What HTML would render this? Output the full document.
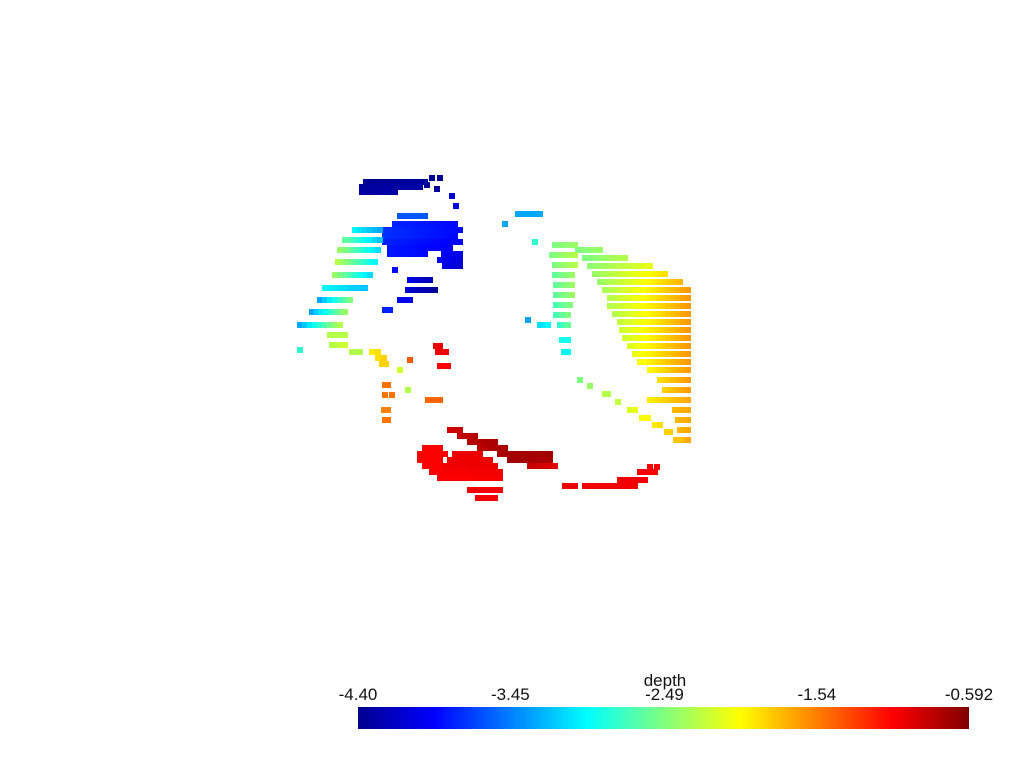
<!DOCTYPE html>
<html><head><meta charset="utf-8"><style>
body{margin:0;background:#fff;width:1024px;height:768px;overflow:hidden;font-family:"Liberation Sans",sans-serif}
svg{position:absolute;left:0;top:0}
</style></head><body>
<svg id="plot" width="1024" height="768">
<defs><linearGradient id="jet" x1="0" x2="1" y1="0" y2="0">
<stop offset="0" stop-color="#00008f"/><stop offset="0.125" stop-color="#0000ff"/><stop offset="0.375" stop-color="#00ffff"/><stop offset="0.625" stop-color="#ffff00"/><stop offset="0.875" stop-color="#ff0000"/><stop offset="1" stop-color="#800000"/></linearGradient></defs>
<g id="points"></g>
<g>
<rect x="358" y="707" width="611" height="22" fill="url(#jet)"/>
<text x="665" y="686" font-size="17" text-anchor="middle" fill="#111">depth</text>
<g id="ticks" font-size="17" fill="#111" text-anchor="middle"></g>
</g>
</svg>
<script>
// runs: [y, x0, x1, depthStart, depthEnd]
const runs = [
[182,366,425,-4.32,-4.28],[187,362,420,-4.3,-4.25],[192,362,395,-4.28,-4.25],
[178,432,432,-4.3,-4.3],[178,440,440,-4.3,-4.3],[185,427,427,-4.3,-4.3],[189,437,437,-4.3,-4.3],[196,452,452,-4.1,-4.1],[206,456,456,-4.0,-4.0],
[224,395,455,-3.8,-3.9],[230,385,460,-3.75,-3.9],[236,385,455,-3.75,-3.9],[242,385,460,-3.8,-3.95],[248,390,450,-3.85,-3.95],[254,390,425,-3.85,-3.9],[254,444,460,-3.95,-4.0],[260,440,460,-3.95,-4.05],[266,445,460,-4.0,-4.1],
[216,400,425,-3.6,-3.6],[230,355,380,-3.0,-3.3],[240,345,380,-2.6,-3.2],[250,340,378,-2.4,-3.1],[262,338,375,-2.3,-3.0],[275,335,370,-2.4,-3.1],[288,325,365,-3.0,-3.2],[300,320,350,-3.3,-2.5],[312,312,345,-3.3,-2.4],[325,300,340,-3.3,-2.3],[335,330,345,-2.3,-2.3],[345,332,345,-2.3,-2.2],[350,300,300,-2.8,-2.8],
[280,410,430,-4.0,-4.2],[290,408,435,-4.1,-4.3],[300,400,410,-4.0,-4.0],[270,395,395,-3.9,-3.9],[310,385,390,-3.8,-3.8],
[352,372,378,-1.95,-1.9],[358,378,384,-1.9,-1.85],[364,382,386,-1.85,-1.85],[352,352,360,-2.3,-2.3],[370,400,400,-2.2,-2.2],
[385,385,388,-1.5,-1.5],[395,385,392,-1.5,-1.5],[410,384,388,-1.55,-1.55],[420,385,388,-1.5,-1.5],[400,428,440,-1.45,-1.45],[390,408,408,-2.3,-2.3],[360,410,410,-1.4,-1.4],
[346,436,440,-1.0,-1.0],[352,438,446,-1.0,-1.0],[366,440,448,-1.05,-1.05],
[214,518,540,-3.3,-3.3],[224,505,505,-3.3,-3.3],[242,535,535,-2.8,-2.8],[320,528,528,-3.3,-3.3],[325,540,548,-3.1,-3.0],
[250,578,600,-2.5,-2.4],[258,585,625,-2.5,-2.3],[266,590,650,-2.45,-2.1],[274,595,665,-2.4,-1.9],[282,600,680,-2.4,-1.75],[290,605,688,-2.35,-1.65],
[298,610,688,-2.3,-1.65],[306,610,688,-2.3,-1.65],[314,615,688,-2.3,-1.65],[322,620,688,-2.25,-1.65],[330,622,688,-2.2,-1.65],[338,625,688,-2.2,-1.65],[346,630,688,-2.15,-1.65],[354,635,688,-2.1,-1.65],[362,640,688,-2.05,-1.65],[370,650,688,-2.0,-1.65],[380,660,688,-1.9,-1.65],[390,665,688,-1.85,-1.65],[400,650,688,-1.95,-1.7],[410,675,688,-1.75,-1.7],[420,678,688,-1.75,-1.7],[430,680,688,-1.75,-1.7],[440,682,688,-1.75,-1.7],
[245,555,575,-2.5,-2.4],[255,552,575,-2.5,-2.3],[265,555,575,-2.5,-2.3],[275,555,572,-2.6,-2.4],[285,556,572,-2.6,-2.4],[295,556,572,-2.6,-2.4],[305,556,570,-2.7,-2.5],[315,556,568,-2.7,-2.5],[325,560,568,-2.8,-2.6],[340,562,568,-2.9,-2.9],[352,564,568,-3.0,-3.0],
[380,580,580,-2.5,-2.5],[386,590,592,-2.4,-2.4],[394,605,608,-2.3,-2.3],[402,618,620,-2.25,-2.2],[410,630,635,-2.15,-2.1],[418,642,648,-2.05,-2.0],[425,655,660,-1.95,-1.9],[432,667,670,-1.85,-1.85],[440,676,680,-1.8,-1.8],
[430,450,460,-0.9,-0.85],[436,460,475,-0.85,-0.8],[442,470,495,-0.8,-0.75],[448,425,440,-1.05,-1.05],[448,480,505,-0.8,-0.75],
[454,420,445,-1.05,-1.05],[454,455,480,-1.0,-1.0],[454,500,550,-0.75,-0.72],[460,420,440,-1.05,-1.05],[460,450,490,-1.0,-1.0],[460,510,550,-0.72,-0.75],
[466,425,440,-1.05,-1.05],[466,445,495,-1.02,-1.0],[466,530,555,-0.85,-0.95],[472,432,500,-1.05,-1.02],[478,440,500,-1.05,-1.05],
[486,565,575,-1.0,-1.0],[486,585,635,-1.02,-1.02],[480,620,645,-1.02,-1.02],[472,640,655,-1.05,-1.05],[467,650,657,-1.05,-1.05],
[490,470,500,-1.02,-1.02],[498,478,495,-1.02,-1.02]
];
const tickValues = [-4.40,-3.45,-2.49,-1.54,-0.592];
const tickLabels = ["-4.40","-3.45","-2.49","-1.54","-0.592"];
const dMin=-4.40, dMax=-0.592;
const barX0=358, barX1=969;
function norm(d){return Math.max(0,Math.min(1,(d-dMin)/(dMax-dMin)));}
function jet(t){
  const f=v=>Math.max(0,Math.min(1,v));
  const r=f(Math.min(4*t-1.5,-4*t+4.5)), g=f(Math.min(4*t-0.5,-4*t+3.5)), b=f(Math.min(4*t+0.5,-4*t+2.5));
  return `rgb(${Math.round(r*255)},${Math.round(g*255)},${Math.round(b*255)})`;
}
const NS="http://www.w3.org/2000/svg";
const g=document.getElementById('points');
const step=5, sz=6;
runs.forEach(r=>{
  const [y,x0,x1,d0,d1]=r;
  const n=Math.max(1,Math.round((x1-x0)/step)+1);
  for(let i=0;i<n;i++){
    const t=n===1?0:i/(n-1);
    const x=x0+(x1-x0)*t, d=d0+(d1-d0)*t;
    const el=document.createElementNS(NS,'rect');
    el.setAttribute('x',(x-sz/2).toFixed(1));el.setAttribute('y',(y-sz/2).toFixed(1));
    el.setAttribute('width',sz);el.setAttribute('height',sz);
    el.setAttribute('fill',jet(norm(d)));
    
    
    g.appendChild(el);
  }
});
const tg=document.getElementById('ticks');
tickValues.forEach((v,i)=>{
  const el=document.createElementNS(NS,'text');
  el.setAttribute('x',(barX0+(barX1-barX0)*norm(v)).toFixed(1));
  el.setAttribute('y',700);
  el.textContent=tickLabels[i];
  
  
  tg.appendChild(el);
});
</script>
</body></html>
